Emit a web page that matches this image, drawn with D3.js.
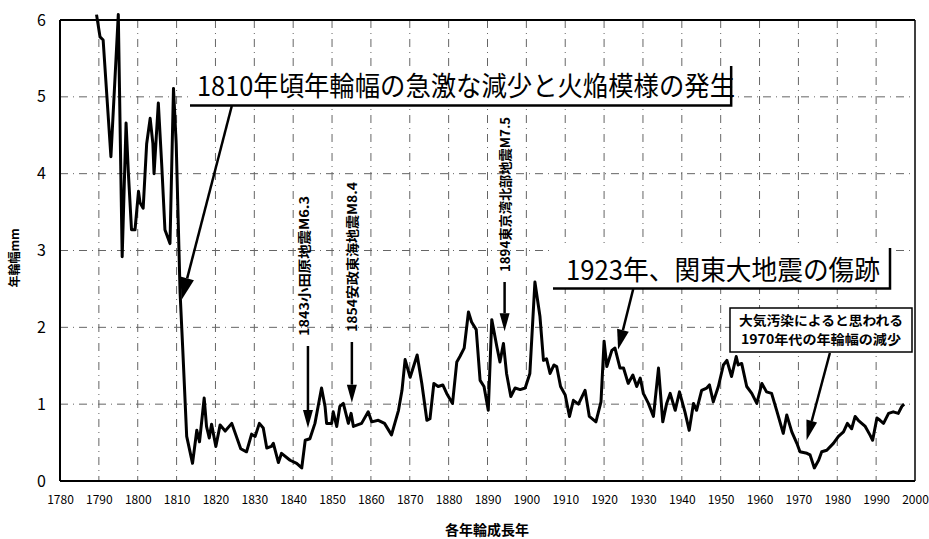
<!DOCTYPE html>
<html><head><meta charset="utf-8">
<script src="https://cdn.jsdelivr.net/npm/d3@7"></script>
<style>
html,body{margin:0;padding:0;background:#fff;}
svg text{font-family:"Noto Sans CJK JP","Noto Sans",sans-serif;fill:#000;}
</style></head>
<body>
<svg id="chart" width="929" height="539"></svg>
<script>
// ---- data ----
const years = [1789.4,1790.3,1791.1,1793.1,1795.0,1796.0,1797.0,1797.6,1798.4,1799.3,1800.2,1800.6,1801.4,1802.3,1803.2,1803.9,1804.2,1805.3,1806.2,1807.0,1808.3,1809.2,1809.9,
1810.9,1811.6,1812.6,1814.1,1815.2,1815.9,1817.1,1817.7,1818.4,1819.0,1820.1,1821.2,1822.5,1824.2,1826.5,1828.0,1829.3,1830.2,1831.3,1832.3,1833.2,1834.4,1834.9,1836.2,1837.0,1839.2,1840.9,1842.2,
1843.1,1844.3,1845.6,1847.3,1848.2,1848.6,1849.9,1850.3,1851.2,1852.0,1852.9,1854.2,1854.9,1855.5,1857.6,1859.3,1860.2,1861.9,1863.5,1865.3,1867.1,1868.0,1868.8,1870.1,1871.9,1873.1,1874.4,1875.2,1876.2,1877.3,1878.5,1879.5,1881.0,1882.1,1882.9,1884.0,1885.1,1885.9,1887.1,1888.1,1889.1,1890.2,1891.1,1892.4,1893.2,1894.1,1894.9,1896.0,1897.1,1898.4,1899.7,1900.9,1902.2,1903.5,1904.4,1905.2,1906.1,1907.1,1907.8,1908.8,1910.0,1911.1,1912.1,1913.4,1915.1,1916.2,1917.9,1919.2,
1920.0,1920.7,1922.0,1922.8,1924.1,1925.0,1926.2,1927.4,1928.4,1929.3,1930.1,1931.4,1932.7,1934.0,1935.1,1936.1,1937.0,1938.3,1939.4,1940.8,1941.9,1943.0,1943.8,1945.1,1946.4,1947.1,1948.1,1949.4,1950.7,1951.6,1952.8,1954.0,1954.5,1955.4,1956.7,1958.0,1959.3,1960.6,1961.8,1963.1,1964.4,1966.1,1967.0,1968.3,1969.6,1970.4,1972.2,1973.0,1974.1,1975.2,1976.0,1977.3,1979.0,1980.3,1981.6,1982.6,1983.7,1984.6,1985.4,1987.2,1988.4,1989.1,1990.2,1991.0,1991.9,1993.2,1994.4,1995.7,1996.6,1997.2];
const widths = [6.07,5.78,5.74,4.22,6.07,2.92,4.66,4.0,3.27,3.27,3.77,3.62,3.55,4.39,4.72,4.39,4.0,4.92,4.09,3.27,3.09,5.11,4.39,
2.45,1.7,0.58,0.23,0.66,0.51,1.08,0.71,0.56,0.74,0.45,0.73,0.65,0.75,0.42,0.38,0.61,0.58,0.75,0.69,0.43,0.45,0.49,0.24,0.36,0.27,0.23,0.17,
0.53,0.55,0.75,1.21,0.97,0.75,0.75,0.9,0.71,0.97,1.01,0.75,0.88,0.71,0.75,0.9,0.77,0.79,0.75,0.60,0.92,1.18,1.58,1.35,1.64,1.27,0.79,0.81,1.27,1.23,1.25,1.14,1.01,1.55,1.62,1.73,2.2,2.07,1.97,1.31,1.23,0.92,2.10,1.75,1.55,1.79,1.40,1.10,1.21,1.19,1.21,1.40,2.59,2.14,1.57,1.59,1.40,1.51,1.49,1.23,1.12,0.84,1.05,1.0,1.18,0.84,0.77,1.03,
1.82,1.49,1.70,1.73,1.47,1.47,1.27,1.38,1.23,1.34,1.14,1.01,0.84,1.47,0.77,1.01,1.14,0.92,1.16,0.90,0.66,1.01,0.92,1.18,1.21,1.25,1.03,1.23,1.51,1.57,1.36,1.62,1.51,1.53,1.23,1.14,1.01,1.27,1.16,1.14,0.92,0.62,0.86,0.64,0.49,0.38,0.36,0.34,0.17,0.27,0.38,0.40,0.49,0.58,0.64,0.75,0.68,0.84,0.79,0.71,0.60,0.53,0.82,0.79,0.75,0.88,0.90,0.88,0.97,1.0];
const xTicks = [1780,1790,1800,1810,1820,1830,1840,1850,1860,1870,1880,1890,1900,1910,1920,1930,1940,1950,1960,1970,1980,1990,2000];
const yTicks = [0,1,2,3,4,5,6];
const xTitle = "各年輪成長年";
const yTitle = "年輪幅mm";
const quakeLabels = ["1843小田原地震M6.3","1854安政東海地震M8.4","1894東京湾北部地震M7.5"];
const bigNote1 = "1810年頃年輪幅の急激な減少と火焔模様の発生";
const bigNote2 = "1923年、関東大地震の傷跡";
const smallNote = ["大気汚染によると思われる","1970年代の年輪幅の減少"];

// ---- layout ----
const svg = d3.select("#chart");
const L = 60, R = 915, T = 20, B = 481;
const x = d3.scaleLinear().domain([1780,2000]).range([L,R]);
const y = d3.scaleLinear().domain([0,6]).range([B,T]);

// grid
const grid = svg.append("g").attr("stroke","#000").attr("stroke-width",1).attr("opacity",0.6);
grid.selectAll("line.h").data(yTicks.filter(d=>d>0&&d<6)).enter().append("line")
  .attr("x1",L).attr("x2",R).attr("y1",d=>y(d)).attr("y2",d=>y(d))
  .attr("stroke-dasharray","8,5,1,5");
grid.selectAll("line.v").data(xTicks.filter(d=>d>1780&&d<2000)).enter().append("line")
  .attr("y1",T).attr("y2",B).attr("x1",d=>x(d)).attr("x2",d=>x(d))
  .attr("stroke-dasharray","8,5,1,5");

// axes
const ax = svg.append("g").attr("transform",`translate(0,${B})`)
  .call(d3.axisBottom(x).tickValues(xTicks).tickFormat(d3.format("d")).tickSize(0).tickPadding(14));
ax.select(".domain").remove();
ax.selectAll("text").style("font-size","12px").style("font-family","'Noto Sans CJK JP',sans-serif");
const ay = svg.append("g").attr("transform",`translate(${L},0)`)
  .call(d3.axisLeft(y).tickValues(yTicks).tickFormat(d3.format("d")).tickSize(0).tickPadding(14));
ay.select(".domain").remove();
ay.selectAll("text").style("font-size","16px").style("font-family","'Noto Sans CJK JP',sans-serif");

// frame
svg.append("line").attr("x1",L).attr("x2",R).attr("y1",T).attr("y2",T).attr("stroke","#000").attr("stroke-width",2);
svg.append("line").attr("x1",L).attr("x2",R).attr("y1",B).attr("y2",B).attr("stroke","#000").attr("stroke-width",2);
svg.append("line").attr("x1",L).attr("x2",L).attr("y1",T).attr("y2",B).attr("stroke","#000").attr("stroke-width",2);
svg.append("line").attr("x1",R).attr("x2",R).attr("y1",T).attr("y2",B).attr("stroke","#000").attr("stroke-width",1.5);

// titles
svg.append("text").attr("x",487).attr("y",535).attr("text-anchor","middle")
  .style("font-size","14px").style("font-weight","bold").text(xTitle);
svg.append("text").attr("transform","translate(19,258) rotate(-90)").attr("text-anchor","middle")
  .style("font-size","12px").style("font-weight","bold").text(yTitle);

// data line
const pts = years.map((d,i)=>[d,widths[i]]);
svg.append("path").datum(pts)
  .attr("fill","none").attr("stroke","#000").attr("stroke-width",3).attr("stroke-linejoin","round")
  .attr("d", d3.line().x(d=>x(d[0])).y(d=>y(d[1])));

// arrow helper
function arrow(x1,y1,x2,y2,hl,hw,sw){
  const ang = Math.atan2(y2-y1,x2-x1);
  const bx = x2 - hl*Math.cos(ang), by = y2 - hl*Math.sin(ang);
  const px = -Math.sin(ang)*hw/2, py = Math.cos(ang)*hw/2;
  svg.append("line").attr("x1",x1).attr("y1",y1).attr("x2",bx).attr("y2",by)
    .attr("stroke","#000").attr("stroke-width",sw);
  svg.append("path").attr("d",`M${x2},${y2}L${bx+px},${by+py}L${bx-px},${by-py}Z`).attr("fill","#000");
}

// Box 1
svg.append("rect").attr("x",190).attr("y",66).attr("width",x(1952.5)-190).attr("height",39).attr("fill","#fff");
svg.append("path").attr("d",`M190,105.5H${x(1952.7)}V66`).attr("fill","none").attr("stroke","#000").attr("stroke-width",2.5);
svg.append("text").attr("x",197).attr("y",96).attr("textLength",538).attr("lengthAdjust","spacingAndGlyphs")
  .style("font-size","27px").text(bigNote1);
arrow(x(1824.2),106,x(1811.3),y(2.36),22,14,2.5);

// vertical quake labels
const quakeYears = [1843.8,1855.1,1894.4];
const quakeTop = [196,182,117];
const quakeBottom = [336,332,272];
const quakeTip = [0.69,1.02,1.95];
const quakeX = [303.5,352,505];
quakeLabels.forEach((t,i)=>{
  const cy = (quakeTop[i]+quakeBottom[i])/2;
  svg.append("text").attr("transform",`translate(${quakeX[i]+5},${cy}) rotate(-90)`)
    .attr("text-anchor","middle").attr("textLength",quakeBottom[i]-quakeTop[i]).attr("lengthAdjust","spacingAndGlyphs")
    .style("font-size","13px").style("font-weight","bold").text(t);
  const ax0 = x(quakeYears[i]);
  arrow(ax0,quakeBottom[i]+10,ax0,y(quakeTip[i]),18,10,2.5);
});

// Box 2
svg.append("rect").attr("x",553).attr("y",248).attr("width",890-553).attr("height",40).attr("fill","#fff");
svg.append("path").attr("d",`M553,288.5H890V248`).attr("fill","none").attr("stroke","#000").attr("stroke-width",2.5);
svg.append("text").attr("x",566).attr("y",280).attr("textLength",314).attr("lengthAdjust","spacingAndGlyphs")
  .style("font-size","27px").text(bigNote2);
arrow(x(1927.5),289,x(1923.6),y(1.71),20,12,2.5);

// Box 3
svg.append("rect").attr("x",730).attr("y",308).attr("width",182).attr("height",44)
  .attr("fill","#fff").attr("stroke","#000").attr("stroke-width",1.5);
smallNote.forEach((t,i)=>{
  svg.append("text").attr("x",821).attr("y",325+i*19).attr("text-anchor","middle")
    .attr("textLength",i===0?164:160).attr("lengthAdjust","spacingAndGlyphs")
    .style("font-size","13px").style("font-weight","bold").text(t);
});
arrow(x(1978.1),353,x(1972.1),y(0.53),20,11,2.5);
</script>
</body></html>
